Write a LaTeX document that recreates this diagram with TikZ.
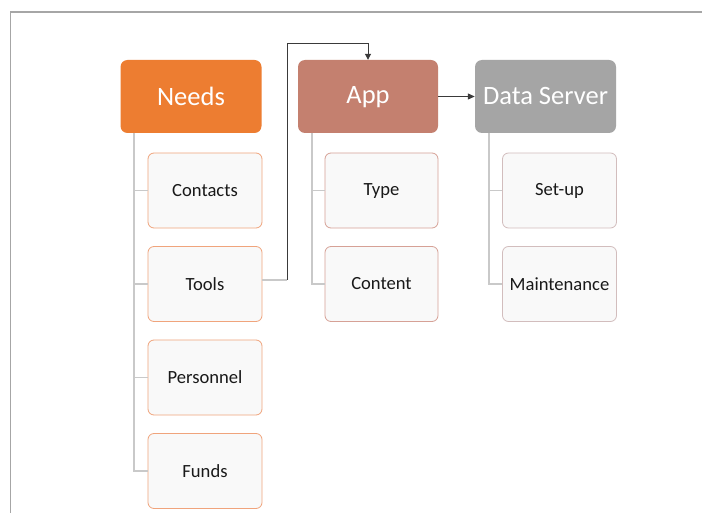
\documentclass[tikz,border=0pt]{standalone}
\usepackage{fontspec}
\setmainfont{Carlito}
\usetikzlibrary{arrows.meta}
\definecolor{needsC}{HTML}{ED7D31}
\definecolor{appC}{HTML}{C4806F}
\definecolor{dsC}{HTML}{A5A5A5}
\definecolor{needsB}{HTML}{F0A47C}
\definecolor{appB}{HTML}{D6A196}
\definecolor{dsB}{HTML}{D2BDBD}
\definecolor{childF}{HTML}{F9F9F9}
\definecolor{treeL}{HTML}{C9C9C9}
\definecolor{frameC}{HTML}{A6A6A6}
\definecolor{connC}{HTML}{3A3A3A}
\tikzset{
  head/.style={rounded corners=7pt, inner sep=0pt, minimum width=141pt, minimum height=73pt,
    text=white, font=\fontsize{26.5}{30}\selectfont},
  child/.style={draw, fill=childF, line width=0.8pt, rounded corners=6pt, inner sep=0pt,
    minimum width=114pt, minimum height=75pt, text=black!90, font=\fontsize{18.6}{22}\selectfont},
  tree/.style={draw=treeL, line width=1.3pt},
  conn/.style={draw=connC, line width=1pt},
}
\begin{document}
\begin{tikzpicture}[x=1pt,y=-1pt]
\useasboundingbox (0,0) rectangle (702,513);
\fill[white] (0,0) rectangle (702,513);
\draw[frameC, line width=1.6pt] (10.5,514) -- (10.5,12) -- (703,12);

% heads
\node[head, fill=needsC] (needs) at (191,96.5) {Needs};
\node[head, fill=appC, minimum width=140pt] (app) at (368,96.5) {App\vphantom{Nd}};
\node[head, fill=dsC] (ds) at (545.5,96.5) {Data Server};

% tree tops
\coordinate (nT) at (134,133);
\coordinate (aT) at (312,133);
\coordinate (dT) at (489,133);

% needs children
\node[child, draw=needsB] (contacts) at (205,190.5) {Contacts};
\node[child, draw=needsB] (tools) at (205,284) {Tools};
\node[child, draw=needsB] (personnel) at (205,377.5) {Personnel};
\node[child, draw=needsB] (funds) at (205,471) {Funds};

% app children
\node[child, draw=appB, minimum width=113pt] (type) at (381.5,190.5) {Type\vphantom{Ct}};
\node[child, draw=appB, minimum width=113pt] (content) at (381.5,284) {Content};

% ds children
\node[child, draw=dsB] (setup) at (559.5,190.5) {Set-up\vphantom{Mt}};
\node[child, draw=dsB] (maint) at (559.5,284) {Maintenance};

\draw[tree] (nT) |- (funds.west);
\draw[tree] (nT |- contacts.west) -- (contacts.west);
\draw[tree] (nT |- tools.west) -- (tools.west);
\draw[tree] (nT |- personnel.west) -- (personnel.west);

\draw[tree] (aT) |- (content.west);
\draw[tree] (aT |- type.west) -- (type.west);

\draw[tree] (dT) |- (maint.west);
\draw[tree] (dT |- setup.west) -- (setup.west);

% connectors
\coordinate (tb) at (287,280);
\coordinate (top) at (287,44);
\draw[tree] (tools.east |- tb) -- (tb);
\draw[conn, -{Triangle[length=6pt,width=6pt]}] (tb) -- (top) -| (app.north);
\draw[conn, -{Triangle[length=7pt,width=6pt]}] (app.east) -- (ds.west);
\end{tikzpicture}
\end{document}
